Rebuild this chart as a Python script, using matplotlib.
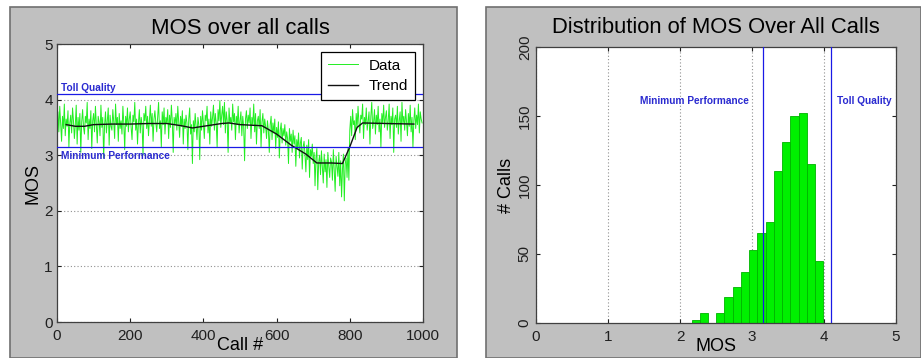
import numpy as np
import matplotlib
matplotlib.use("Agg")
import matplotlib.pyplot as plt
from matplotlib.patches import Rectangle

plt.rcParams['font.family'] = ['Liberation Sans', 'DejaVu Sans']

# ---------------- data ----------------
call_step = 2.5
mos_data = [
    3.60, 3.78, 3.42, 3.88, 3.55, 3.25, 3.70, 3.48, 3.92, 3.35,
    3.65, 3.52, 3.80, 3.15, 3.58, 3.72, 3.40, 3.85, 3.62, 3.30,
    3.55, 3.90, 3.20, 3.68, 3.45, 3.75, 3.05, 3.60, 3.82, 3.50,
    3.38, 3.70, 3.58, 3.95, 3.28, 3.65, 3.48, 3.80, 3.12, 3.62,
    3.75, 3.42, 3.88, 3.55, 3.22, 3.70, 3.60, 3.35, 3.90, 3.50,
    3.68, 2.95, 3.55, 3.78, 3.40, 3.62, 3.85, 3.18, 3.72, 3.52,
    3.45, 3.82, 3.60, 3.30, 3.92, 3.55, 3.68, 3.25, 3.75, 3.48,
    3.62, 3.38, 3.88, 3.58, 3.10, 3.70, 3.52, 3.85, 3.42, 3.65,
    3.78, 3.50, 3.28, 3.72, 3.60, 3.95, 3.45, 3.65, 3.20, 3.58,
    3.82, 3.40, 3.68, 3.55, 3.00, 3.75, 3.62, 3.88, 3.48, 3.70,
    3.35, 3.62, 3.90, 3.52, 3.75, 3.25, 3.65, 3.80, 3.58, 3.42,
    3.70, 3.95, 3.48, 3.62, 3.15, 3.78, 3.55, 3.85, 3.38, 3.68,
    3.58, 3.82, 3.30, 3.72, 3.50, 3.90, 3.62, 3.05, 3.68, 3.55,
    3.75, 3.45, 3.88, 3.60, 3.32, 3.70, 3.52, 3.80, 3.20, 3.65,
    3.48, 3.72, 3.58, 3.10, 3.65, 3.85, 3.38, 3.55, 2.85, 3.62,
    3.42, 3.75, 3.50, 3.28, 3.68, 3.55, 2.92, 3.70, 3.45, 3.80,
    3.58, 3.30, 3.72, 3.62, 3.88, 3.40, 3.65, 3.20, 3.78, 3.52,
    3.68, 3.90, 3.45, 3.75, 3.58, 3.15, 3.82, 3.62, 3.98, 3.50,
    3.72, 3.88, 3.55, 3.95, 3.40, 3.78, 3.62, 3.05, 3.85, 3.58,
    3.68, 3.45, 3.92, 3.60, 3.75, 3.28, 3.70, 3.55, 3.88, 3.40,
    3.62, 3.78, 3.35, 3.70, 3.52, 2.90, 3.65, 3.80, 3.48, 3.72,
    3.58, 3.85, 3.30, 3.68, 3.55, 3.92, 3.42, 3.75, 3.20, 3.62,
    3.70, 3.48, 3.82, 3.15, 3.60, 3.75, 3.40, 3.65, 3.52, 3.30,
    3.62, 3.45, 3.05, 3.55, 3.70, 3.28, 3.58, 3.40, 3.65, 3.12,
    3.50, 3.32, 3.60, 2.95, 3.45, 3.58, 3.22, 3.48, 3.35, 3.55,
    3.18, 3.42, 3.30, 2.85, 3.48, 3.25, 3.38, 3.05, 3.45, 3.20,
    3.35, 2.80, 3.28, 3.12, 3.40, 2.95, 3.22, 3.32, 2.75, 3.15,
    3.25, 3.02, 2.70, 3.18, 2.92, 3.28, 2.60, 3.10, 2.98, 3.20,
    2.85, 3.05, 2.45, 2.95, 3.12, 2.38, 2.88, 3.00, 2.65, 3.08,
    2.78, 2.50, 3.02, 2.70, 2.92, 2.42, 3.05, 2.80, 2.60, 2.95,
    2.88, 2.55, 3.10, 2.72, 2.35, 2.98, 2.80, 2.62, 3.05, 2.45,
    2.90, 2.25, 2.75, 3.02, 2.18, 2.85, 2.95, 2.60, 3.12, 2.55,
    3.45, 3.70, 3.35, 3.82, 3.55, 3.62, 3.28, 3.75, 3.50, 3.88,
    3.58, 3.40, 3.72, 3.65, 3.92, 3.30, 3.68, 3.55, 3.85, 3.45,
    3.62, 3.78, 3.20, 3.70, 3.95, 3.48, 3.60, 3.82, 3.38, 3.72,
    3.55, 3.88, 3.42, 3.65, 3.15, 3.75, 3.58, 3.90, 3.50, 3.68,
    3.80, 3.45, 3.62, 3.92, 3.30, 3.70, 3.55, 3.85, 3.05, 3.65,
    3.72, 3.50, 3.88, 3.38, 3.62, 3.78, 3.25, 3.95, 3.58, 3.70,
    3.45, 3.82, 3.60, 3.35, 3.75, 3.52, 3.90, 3.42, 3.68, 3.15,
    3.62, 3.85, 3.48, 3.72, 3.55, 3.92, 3.40, 3.78, 3.65, 3.58,
]
call_ids = np.arange(len(mos_data)) * call_step

trend_calls = [25, 50, 75, 100, 150, 200, 250, 300, 340, 370, 400, 450, 470,
               500, 560, 600, 640, 680, 710, 750, 780, 800, 820, 835, 900, 975]
trend_mos = [3.55, 3.52, 3.52, 3.55, 3.56, 3.56, 3.57, 3.57, 3.53, 3.49, 3.52,
             3.57, 3.58, 3.55, 3.53, 3.38, 3.18, 3.02, 2.86, 2.86, 2.85, 3.15,
             3.50, 3.58, 3.57, 3.56]

toll_quality = 4.1
min_performance = 3.15

hist_start = 2.16
hist_width = 0.1144
hist_counts = [2, 7, 0, 7, 19, 26, 37, 53, 65, 73, 110, 131, 150, 152, 115, 45]

left_title = "MOS over all calls"
right_title = "Distribution of MOS Over All Calls"

# ---------------- figure ----------------
fig = plt.figure(figsize=(9.21, 3.58), dpi=100)
fig.patch.set_facecolor('white')

W, H = 921.0, 358.0
gray = '#c0c0c0'
for (x0, x1) in [(10, 457), (486, 921)]:
    r = Rectangle((x0 / W, 0), (x1 - x0) / W, (H - 7) / H,
                  transform=fig.transFigure, facecolor=gray,
                  edgecolor='#707070', linewidth=1.2, zorder=-10)
    fig.patches.append(r)

blue = '#1a1ae6'
label_blue = '#2a2ad0'

def style_ax(ax):
    ax.set_facecolor('white')
    ax.tick_params(direction='in', top=True, right=True, length=3,
                   labelsize=11, colors='#202020', pad=3)
    ax.tick_params(axis='x', pad=5)
    for s in ax.spines.values():
        s.set_color('#404040')
        s.set_linewidth(0.9)

# Left axes
ax1 = fig.add_axes([57 / W, 1 - 322 / H, 366 / W, 278 / H])
ax1.set_zorder(1)
ax1.plot(call_ids, mos_data, color='#22ee22', lw=0.7, label='Data', zorder=2)
ax1.plot(trend_calls, trend_mos, color='#101010', lw=1.0, label='Trend', zorder=3)
ax1.axhline(toll_quality, color=blue, lw=0.9, zorder=4)
ax1.axhline(min_performance, color=blue, lw=0.9, zorder=4)
ax1.text(11, toll_quality + 0.02, 'Toll Quality', color=label_blue, fontsize=7.3,
         fontweight='bold', va='bottom', ha='left', zorder=5)
ax1.text(11, 2.99, 'Minimum Performance', color=label_blue, fontsize=7.3,
         fontweight='bold', va='center', ha='left', zorder=5)
ax1.set_xlim(0, 1000)
ax1.set_ylim(0, 5)
ax1.set_xticks([0, 200, 400, 600, 800, 1000])
ax1.set_yticks([0, 1, 2, 3, 4, 5])
ax1.yaxis.grid(True, linestyle=(0, (1, 2)), color='#909090', lw=0.8)
ax1.set_axisbelow(True)
style_ax(ax1)
ax1.set_title(left_title, fontsize=15.9, pad=7)
ax1.set_xlabel('Call #', fontsize=13, labelpad=-4)
ax1.set_ylabel('MOS', fontsize=13, labelpad=2)
leg = ax1.legend(loc='upper right', fontsize=11, frameon=True, fancybox=False,
                 borderaxespad=0.5, handlelength=2.0, handletextpad=0.7,
                 borderpad=0.45, labelspacing=0.45, framealpha=1)
leg.get_frame().set_edgecolor('black')
leg.get_frame().set_linewidth(0.9)
leg.set_zorder(6)

# Right axes
ax2 = fig.add_axes([536 / W, 1 - 323 / H, 360 / W, 276 / H])
ax2.set_zorder(1)
edges = hist_start + hist_width * np.arange(len(hist_counts) + 1)
centers = (edges[:-1] + edges[1:]) / 2
ax2.hist(centers, bins=edges, weights=hist_counts, color='#00f000',
         edgecolor='#00b400', linewidth=0.6, zorder=2)
ax2.axvline(min_performance, color=blue, lw=0.9, zorder=4)
ax2.axvline(toll_quality, color=blue, lw=0.9, zorder=4)
ax2.text(2.96, 161, 'Minimum Performance', color=label_blue, fontsize=7.3,
         fontweight='bold', va='center', ha='right', zorder=5)
ax2.text(4.18, 161, 'Toll Quality', color=label_blue, fontsize=7.3,
         fontweight='bold', va='center', ha='left', zorder=5)
ax2.set_xlim(0, 5)
ax2.set_ylim(0, 200)
ax2.set_xticks([0, 1, 2, 3, 4, 5])
ax2.set_yticks([0, 50, 100, 150, 200])
ax2.xaxis.grid(True, linestyle=(0, (1, 2)), color='#909090', lw=0.8)
ax2.set_axisbelow(True)
style_ax(ax2)
for lbl in ax2.get_yticklabels():
    lbl.set_rotation(90)
    lbl.set_va('center')
ax2.set_title(right_title, fontsize=15.8, pad=10)
ax2.set_xlabel('MOS', fontsize=13, labelpad=-4)
ax2.set_ylabel('# Calls', fontsize=13, labelpad=2)

fig.savefig('out.png', dpi=100, facecolor='white')
